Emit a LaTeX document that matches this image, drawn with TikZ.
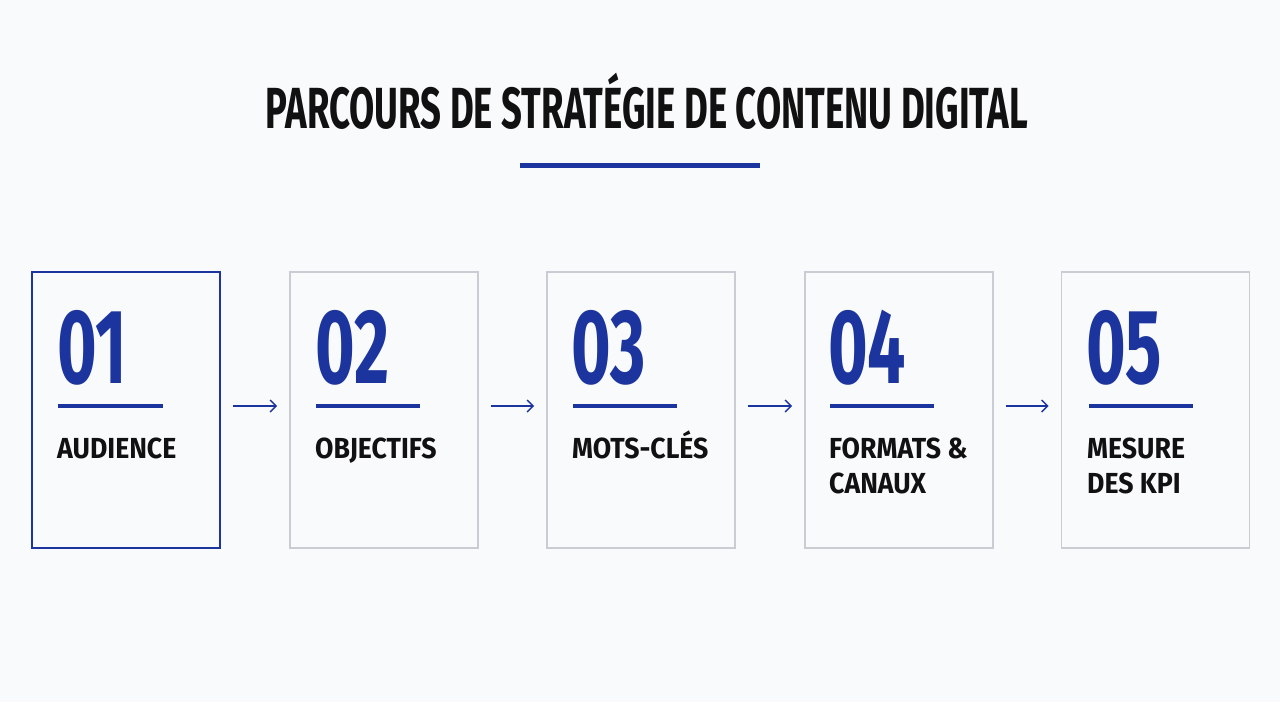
\documentclass[tikz,border=0pt]{standalone}
\usepackage{fontspec}
\setmainfont{Fira Sans}
\usepackage{graphicx}
\usetikzlibrary{arrows.meta}
\definecolor{bg}{HTML}{F9FAFC}
\definecolor{navy}{HTML}{1C359E}
\definecolor{frame}{HTML}{C9CCD2}
\definecolor{ink}{HTML}{111111}
\newcommand{\ttl}[1]{\resizebox{762pt}{\height}{\fontsize{58}{58}\selectfont\bfseries #1}}
\newcommand{\numtxt}[1]{\scalebox{0.64}[1]{\fontsize{106}{106}\selectfont\bfseries #1}}
\newcommand{\labtxt}[1]{\scalebox{0.92}[1]{\fontsize{29}{29}\selectfont\bfseries #1}}
\tikzset{
  card/.style={draw=frame, line width=1.6pt, fill=bg, minimum width=188pt, minimum height=276pt, inner sep=0pt},
  activecard/.style={card, draw=navy},
  numlbl/.style={anchor=base west, inner sep=0pt, text=navy},
  steplbl/.style={anchor=base west, inner sep=0pt, text=ink},
  bar/.style={navy, line width=3.5pt},
  arr/.style={navy, line width=1.4pt, -{Straight Barb[length=6pt,width=12pt]}, shorten <=12pt, shorten >=12pt}
}
\begin{document}
\begin{tikzpicture}[x=1pt,y=-1pt]
\fill[bg] (0,0) rectangle (1280,702);
\useasboundingbox (0,0) rectangle (1280,702);
% title
\node[anchor=base, inner sep=0pt, text=ink] (title) at (647,128) {\ttl{PARCOURS DE STRATÉGIE DE CONTENU DIGITAL}};
\coordinate (tl) at (520,165.5);
\coordinate (tr) at (760,165.5);
\draw[navy, line width=5pt] (tl) -- (tr);
% cards
\node[activecard] (b1) at (126,410) {};
\node[card] (b2) at (384,410) {};
\node[card] (b3) at (641,410) {};
\node[card] (b4) at (899,410) {};
\node[card] (b5) at (1155.5,410) {};
% numbers
\node[numlbl] (n1) at (57,383) {\numtxt{01}};
\node[numlbl] (n2) at (315,383) {\numtxt{02}};
\node[numlbl] (n3) at (571,383) {\numtxt{03}};
\node[numlbl] (n4) at (828,383) {\numtxt{04}};
\node[numlbl] (n5) at (1086,383) {\numtxt{05}};
% bars
\draw[bar] (58,406) -- (163,406);
\draw[bar] (316,406) -- (420,406);
\draw[bar] (573,406) -- (677,406);
\draw[bar] (830,406) -- (934,406);
\draw[bar] (1089,406) -- (1193,406);
% labels
\node[steplbl] (l1) at (57,458) {\labtxt{AUDIENCE}};
\node[steplbl] (l2) at (315,458) {\labtxt{OBJECTIFS}};
\node[steplbl] (l3) at (572,458) {\labtxt{MOTS-CLÉS}};
\node[steplbl] (l4a) at (829,458) {\labtxt{FORMATS \&}};
\node[steplbl] (l4b) at (829,493) {\labtxt{CANAUX}};
\node[steplbl] (l5a) at (1087,458) {\labtxt{MESURE}};
\node[steplbl] (l5b) at (1087,493) {\labtxt{DES KPI}};
% arrows
\draw[arr] ([yshift=4pt]b1.east) -- ([yshift=4pt]b2.west);
\draw[arr] ([yshift=4pt]b2.east) -- ([yshift=4pt]b3.west);
\draw[arr] ([yshift=4pt]b3.east) -- ([yshift=4pt]b4.west);
\draw[arr] ([yshift=4pt]b4.east) -- ([yshift=4pt]b5.west);
\end{tikzpicture}
\end{document}
